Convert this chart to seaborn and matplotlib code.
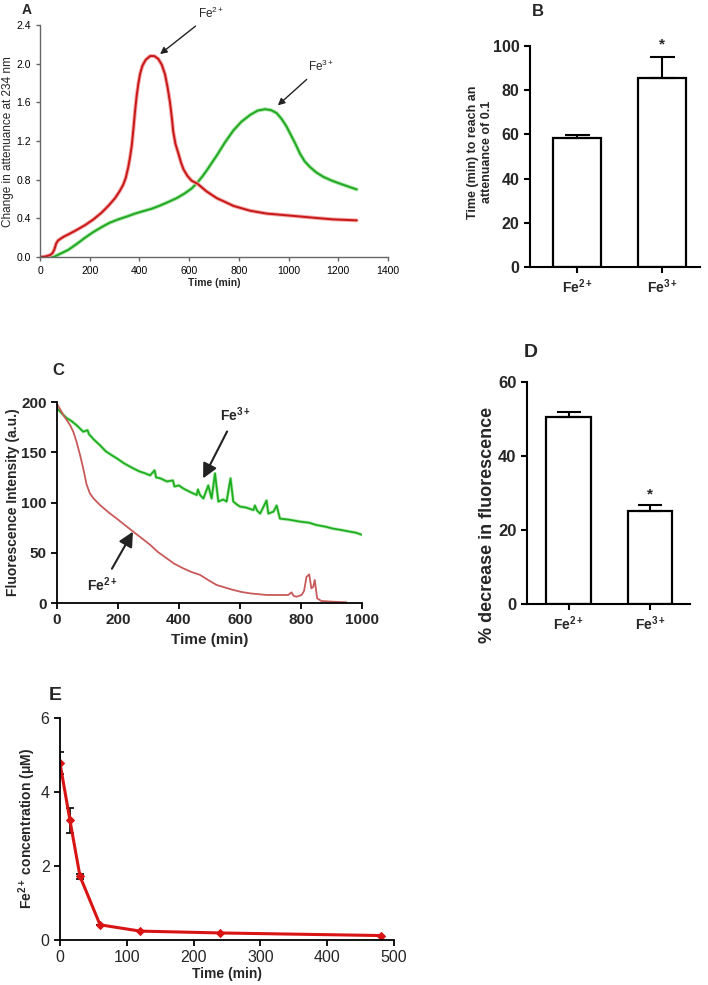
import numpy as np
import pandas as pd
import seaborn as sns
import matplotlib.pyplot as plt
import matplotlib.patheffects as pe

# ---- panel A: attenuance at 234 nm
a_fe2_time = [0, 20, 40, 50, 58, 65, 72, 80, 95, 114, 140, 181, 215, 248, 275, 302, 320, 335, 345,
              355, 362, 369, 376, 382, 389, 396, 403, 412, 425, 443, 460, 476, 490, 503, 513, 523,
              530, 536, 545, 557, 567, 577, 593, 610, 633, 670, 711, 745, 778, 845, 912, 980,
              1046, 1110, 1180, 1274]
a_fe2_val = [0.0, 0.005, 0.02, 0.04, 0.08, 0.14, 0.17, 0.185, 0.21, 0.235, 0.27, 0.33, 0.39, 0.46,
             0.53, 0.61, 0.68, 0.75, 0.82, 0.93, 1.03, 1.15, 1.33, 1.50, 1.67, 1.80, 1.90, 1.98,
             2.04, 2.08, 2.08, 2.05, 1.99, 1.89, 1.76, 1.60, 1.45, 1.30, 1.17, 1.07, 0.98, 0.91,
             0.84, 0.79, 0.76, 0.68, 0.61, 0.57, 0.53, 0.48, 0.45, 0.435, 0.42, 0.405, 0.39, 0.38]
a_fe3_time = [0, 30, 55, 70, 90, 114, 150, 181, 215, 248, 280, 315, 350, 382, 415, 449, 480, 516,
              550, 583, 610, 633, 655, 677, 695, 711, 745, 778, 810, 845, 875, 905, 930, 952, 972,
              992, 1010, 1026, 1046, 1065, 1087, 1112, 1140, 1175, 1207, 1240, 1274]
a_fe3_val = [0.0, 0.0, 0.0, 0.02, 0.045, 0.075, 0.14, 0.20, 0.26, 0.31, 0.355, 0.39, 0.42, 0.45,
             0.475, 0.50, 0.53, 0.57, 0.61, 0.66, 0.71, 0.77, 0.84, 0.92, 0.99, 1.05, 1.19, 1.31,
             1.40, 1.47, 1.515, 1.53, 1.52, 1.49, 1.43, 1.35, 1.26, 1.18, 1.07, 0.99, 0.93, 0.875,
             0.83, 0.79, 0.76, 0.73, 0.70]

# ---- panel B
b_labels = [r'$\mathbf{Fe}^{\mathbf{2+}}$', r'$\mathbf{Fe}^{\mathbf{3+}}$']
b_mean = [58.5, 85.6]
b_err = [1.2, 9.3]

# ---- panel C: fluorescence
c_fe2_time = [0, 10, 21, 32, 43, 54, 64, 75, 86, 97, 108, 120, 141, 170, 196, 225, 250, 280, 305,
              330, 360, 385, 414, 440, 469, 495, 523, 550, 578, 605, 633, 660, 687, 720, 758, 769,
              776, 786, 802, 810, 818, 827, 834, 840, 845, 853, 867, 905, 949]
c_fe2_val = [198, 193, 187, 182, 177, 170, 160.5, 148, 134, 118, 109, 104, 97.5, 90, 84, 77, 71, 64,
             58, 51, 44.4, 39, 34.5, 31, 28, 23, 18, 15.5, 13, 11, 9.6, 8.8, 8, 8, 8, 10.6,
             7, 6.3, 8, 12, 26, 28.5, 14.6, 16, 23, 4.6, 2, 1.3, 0.7]
c_fe3_time = [0, 15, 32, 48, 64, 86, 100, 105, 120, 141, 160, 180, 196, 220, 250, 270, 290, 305, 320,
              325, 340, 360, 380, 385, 400, 414, 440, 458, 462, 469, 480, 496, 507, 518, 529, 545,
              556, 569, 578, 590, 600, 620, 644, 649, 656, 666, 687, 693, 710, 720, 731, 760,
              797, 825, 851, 880, 906, 935, 961, 980, 999]
c_fe3_val = [194, 189, 184, 181, 177, 170.5, 172, 168, 163, 157, 151, 147, 144, 139, 134, 131, 129,
             127, 132, 125, 124, 121, 122, 116, 117, 114, 110, 107.5, 113, 107.5, 104, 117, 104,
             129, 101, 103, 101, 124, 101, 98, 96, 95, 92.5, 97, 92, 89, 102, 89, 91, 97, 84, 83,
             81, 80, 77.6, 76, 74, 72.5, 71, 70, 68]

# ---- panel D
d_labels = [r'$\mathbf{Fe}^{\mathbf{2+}}$', r'$\mathbf{Fe}^{\mathbf{3+}}$']
d_mean = [50.5, 25.0]
d_err = [1.3, 1.8]

# ---- panel E: Fe2+ concentration
e_time = [0, 15, 30, 60, 120, 240, 480]
e_conc = [4.78, 3.23, 1.72, 0.41, 0.24, 0.19, 0.12]
e_err = [0.3, 0.33, 0.06, 0.0, 0.0, 0.0, 0.0]

sns.set_style("ticks")
plt.rcParams['font.family'] = ['Liberation Sans', 'DejaVu Sans']
plt.rcParams['mathtext.fontset'] = 'custom'
plt.rcParams['mathtext.rm'] = 'Liberation Sans'
plt.rcParams['mathtext.it'] = 'Liberation Sans:italic'
plt.rcParams['mathtext.bf'] = 'Liberation Sans:bold'
plt.rcParams['xtick.direction'] = 'out'
plt.rcParams['ytick.direction'] = 'out'

NARROW = ['Liberation Sans Narrow', 'Liberation Sans', 'DejaVu Sans']

fig = plt.figure(figsize=(7.08, 9.85), dpi=100)

RED = '#c81818'
GREEN = '#22a822'


def style_axes(ax, lw=1.2, color='black'):
    sns.despine(ax=ax)
    for s in ['left', 'bottom']:
        ax.spines[s].set_linewidth(lw)
        ax.spines[s].set_color(color)
    ax.tick_params(width=lw, length=4, color=color)


# ---------------- A
axA = fig.add_axes([0.0565, 0.739, 0.4915, 0.2355])
dfa2 = pd.DataFrame({'t': a_fe2_time, 'v': a_fe2_val})
dfa3 = pd.DataFrame({'t': a_fe3_time, 'v': a_fe3_val})
sns.lineplot(data=dfa3, x='t', y='v', ax=axA, color=GREEN, lw=1.4,
             path_effects=[pe.Stroke(linewidth=2.8, foreground='#a8e6a8'), pe.Normal()])
sns.lineplot(data=dfa2, x='t', y='v', ax=axA, color=RED, lw=1.4,
             path_effects=[pe.Stroke(linewidth=2.8, foreground='#f2a8a8'), pe.Normal()])
axA.set_xlim(0, 1400)
axA.set_ylim(0, 2.4)
axA.set_xticks(np.arange(0, 1401, 200))
axA.set_yticks(np.arange(0, 2.41, 0.4))
axA.yaxis.set_major_formatter(plt.FormatStrFormatter('%.1f'))
style_axes(axA, lw=1.0, color='#666666')
axA.tick_params(labelsize=7.5, labelcolor='black', length=3)
axA.set_xlabel('Time (min)', fontsize=7.5, fontweight='bold', family=NARROW, labelpad=1)
axA.set_ylabel('Change in attenuance at 234 nm', fontsize=8.5, family=NARROW)
axA.yaxis.set_label_coords(-0.075, 0.5)
arr_thin = dict(arrowstyle='-|>', color='#222222', lw=1.0, mutation_scale=10, shrinkA=2, shrinkB=0)
axA.annotate(r'Fe$^{2+}$', xy=(483, 2.10), xytext=(690, 2.52), fontsize=8.5, ha='center', va='center',
             arrowprops=arr_thin, annotation_clip=False)
axA.annotate(r'Fe$^{3+}$', xy=(957, 1.57), xytext=(1130, 1.97), fontsize=8.5, ha='center', va='center',
             arrowprops=arr_thin, annotation_clip=False)
fig.text(0.038, 0.990, 'A', fontsize=10, fontweight='bold', ha='center', va='center')


# ---------------- bar panels
def bar_panel(ax, labels, means, errs, ylim, yticks, ylabel, star_y, width, xlim, capsize, ylfs, tfs,
              label_xy):
    sns.barplot(x=labels, y=means, ax=ax, color='white', edgecolor='black', linewidth=1.6,
                width=width, errorbar=None, saturation=1)
    ax.errorbar(range(len(means)), means, yerr=[[0] * len(errs), errs], fmt='none', ecolor='black',
                elinewidth=1.5, capsize=capsize, capthick=1.5)
    ax.set_xlim(*xlim)
    ax.set_ylim(*ylim)
    ax.set_yticks(yticks)
    style_axes(ax, lw=1.5)
    ax.tick_params(axis='y', labelsize=tfs, length=4)
    ax.tick_params(axis='x', labelsize=10, length=4)
    for t in ax.get_yticklabels():
        t.set_fontweight('bold')
    ax.set_ylabel(ylabel, fontsize=ylfs, fontweight='bold')
    ax.yaxis.set_label_coords(*label_xy)
    ax.text(1, star_y, '*', ha='center', va='center', fontsize=11, fontweight='bold')


axB = fig.add_axes([0.7486, 0.729, 0.240, 0.2244])
bar_panel(axB, b_labels, b_mean, b_err, (0, 100), np.arange(0, 101, 20),
          'Time (min) to reach an\nattenuance of 0.1', 100.5, 0.56, (-0.55, 1.44), 9, 9, 11.5,
          (-0.22, 0.52))
fig.text(0.760, 0.988, 'B', fontsize=12, fontweight='bold', ha='center', va='center')

axD = fig.add_axes([0.7444, 0.3868, 0.2302, 0.2254])
bar_panel(axD, d_labels, d_mean, d_err, (0, 60), np.arange(0, 61, 20),
          '% decrease in fluorescence', 29.5, 0.55, (-0.51, 1.49), 8.5, 13, 12,
          (-0.19, 0.356))
fig.text(0.749, 0.642, 'D', fontsize=14, fontweight='bold', ha='center', va='center')

# ---------------- C
axC = fig.add_axes([0.0805, 0.3878, 0.4308, 0.204])
dfc2 = pd.DataFrame({'t': c_fe2_time, 'v': c_fe2_val})
dfc3 = pd.DataFrame({'t': c_fe3_time, 'v': c_fe3_val})
sns.lineplot(data=dfc3, x='t', y='v', ax=axC, color='#1fae1f', lw=1.3,
             path_effects=[pe.Stroke(linewidth=2.4, foreground='#b5ebb5'), pe.Normal()])
sns.lineplot(data=dfc2, x='t', y='v', ax=axC, color='#c85a5a', lw=1.3)
axC.set_xlim(0, 1000)
axC.set_ylim(0, 200)
axC.set_yticks(np.arange(0, 201, 50))
axC.set_xticks(np.arange(0, 1001, 200))
style_axes(axC, lw=1.3)
axC.tick_params(labelsize=11)
for t in axC.get_xticklabels() + axC.get_yticklabels():
    t.set_fontweight('bold')
    t.set_family(NARROW)
axC.set_xlabel('Time (min)', fontsize=11, fontweight='bold', family=NARROW, labelpad=4)
axC.set_ylabel('Fluorescence Intensity (a.u.)', fontsize=10, fontweight='bold', family=NARROW, labelpad=1)
arr_bold = dict(arrowstyle='-|>', color='#222222', lw=1.5, mutation_scale=22, shrinkA=3, shrinkB=0)
axC.annotate(r'$\mathbf{Fe}^{\mathbf{3+}}$', xy=(479, 124), xytext=(585, 187), fontsize=10,
             ha='center', va='center', arrowprops=arr_bold)
axC.annotate(r'$\mathbf{Fe}^{\mathbf{2+}}$', xy=(249, 71), xytext=(150, 18), fontsize=10,
             ha='center', va='center', arrowprops=arr_bold)
fig.text(0.082, 0.624, 'C', fontsize=12, fontweight='bold', ha='center', va='center')

# ---------------- E
axE = fig.add_axes([0.0847, 0.0457, 0.4718, 0.2254])
dfe = pd.DataFrame({'t': e_time, 'c': e_conc})
sns.lineplot(data=dfe, x='t', y='c', ax=axE, color='#d81414', lw=2.2, marker='D', markersize=4,
             markeredgecolor='#d81414')
axE.errorbar(e_time, e_conc, yerr=e_err, fmt='none', ecolor='black', elinewidth=1.2, capsize=3,
             capthick=1.2, zorder=1)
axE.set_xlim(0, 500)
axE.set_ylim(0, 6)
axE.set_yticks(np.arange(0, 7, 2))
axE.set_xticks(np.arange(0, 501, 100))
style_axes(axE, lw=1.3)
axE.tick_params(labelsize=11.5)
axE.set_xlabel('Time (min)', fontsize=10, fontweight='bold', family=NARROW, labelpad=1)
axE.set_ylabel(r'$\mathbf{Fe}^{\mathbf{2+}}$ concentration (μM)', fontsize=10, fontweight='bold',
               family=NARROW)
axE.yaxis.set_label_coords(-0.066, 0.5)
fig.text(0.078, 0.294, 'E', fontsize=14, fontweight='bold', ha='center', va='center')

fig.savefig('out.png', dpi=100)
